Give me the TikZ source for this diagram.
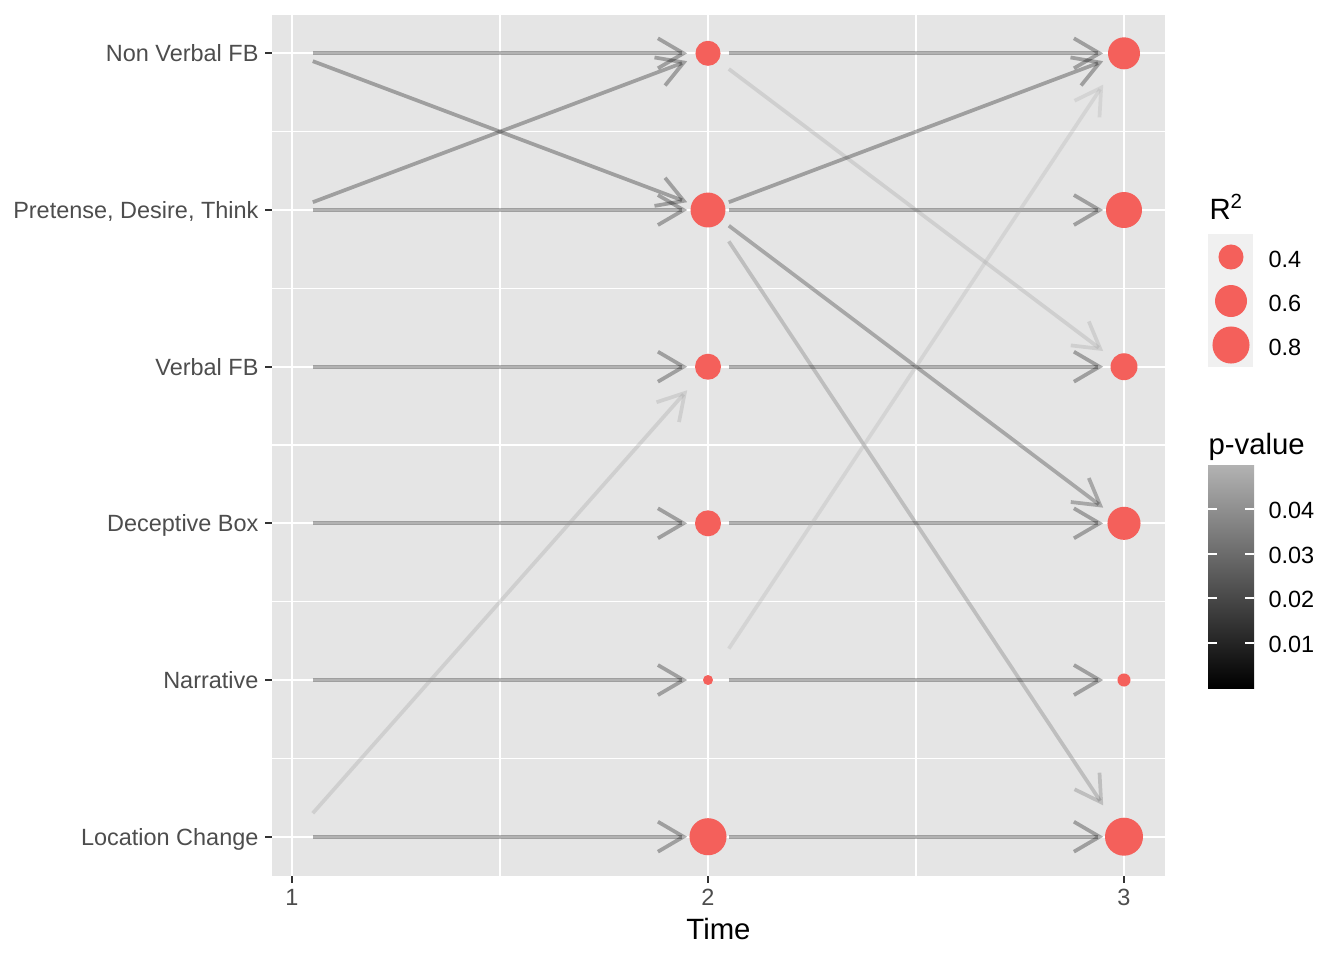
\documentclass[tikz,border=0pt]{standalone}
\usepackage{fontspec}
\setmainfont{Liberation Sans}
\usetikzlibrary{arrows.meta,calc}

\definecolor{panelgray}{HTML}{E5E5E5}
\definecolor{keygray}{HTML}{F0F0F0}
\definecolor{ptred}{HTML}{F4605B}
\definecolor{axisgray}{HTML}{4D4D4D}
\definecolor{tickgray}{HTML}{333333}

\tikzset{
  dot/.style={circle, fill=ptred, inner sep=0pt, minimum size=#1},
  arr/.style={draw=#1, draw opacity=.3, line width=1.4pt,
    -{Straight Barb[length=9.6pt,width=11.25pt]}},
  arr/.default=black,
  major/.style={white, line width=.85pt},
  minor/.style={white, line width=.45pt},
  tick/.style={tickgray, line width=.85pt},
  ylab/.style={anchor=base east, text=axisgray, inner sep=0pt, font=\fontsize{8.8}{10}\selectfont},
  xlab/.style={anchor=center, text=axisgray, inner sep=0pt, font=\fontsize{8.8}{10}\selectfont},
  title/.style={anchor=base west, inner sep=0pt, font=\fontsize{11}{13}\selectfont},
  keylab/.style={anchor=west, inner sep=0pt, font=\fontsize{8.8}{10}\selectfont}
}

\begin{document}
\begin{tikzpicture}[x=0.375pt, y=-0.375pt]
\useasboundingbox (0,0) rectangle (1344,960);

%Panel
\fill[panelgray] (272,15) rectangle (1165,876);
\foreach \y in {131.7,288.3,445,601.7,758.3} \draw[minor] (272,\y) -- (1165,\y);
\foreach \x in {500,916} \draw[minor] (\x,15) -- (\x,876);
\foreach \y in {53.3,210,366.7,523.3,680,836.7} \draw[major] (272,\y) -- (1165,\y);
\foreach \x in {292,708,1124} \draw[major] (\x,15) -- (\x,876);

%Axes
\foreach \y in {53.3,210,366.7,523.3,680,836.7} \draw[tick] (265,\y) -- (272,\y);
\foreach \x in {292,708,1124} \draw[tick] (\x,876) -- (\x,883);

\node[ylab] (labNV) at (259,61.8) {Non Verbal FB};
\node[ylab] (labPDT) at (259,218.5) {Pretense, Desire, Think};
\node[ylab] (labVFB) at (259,375.2) {Verbal FB};
\node[ylab] (labDB) at (259,531.8) {Deceptive Box};
\node[ylab] (labNar) at (259,688.5) {Narrative};
\node[ylab] (labLC) at (259,845.2) {Location Change};

\node[xlab] (labT1) at (292,897.5) {1};
\node[xlab] (labT2) at (708,897.5) {2};
\node[xlab] (labT3) at (1124,897.5) {3};
\node[title, anchor=base] (labTime) at (718.5,939) {Time};

%Nodes
\coordinate (nodeNV1) at (292,53.3);
\coordinate (nodePDT1) at (292,210);
\coordinate (nodeVFB1) at (292,366.7);
\coordinate (nodeDB1) at (292,523.3);
\coordinate (nodeNar1) at (292,680);
\coordinate (nodeLC1) at (292,836.7);

\node[dot=9.4pt] (nodeNV2) at (708,53.3) {};
\node[dot=13.1pt] (nodePDT2) at (708,210) {};
\node[dot=9.75pt] (nodeVFB2) at (708,366.7) {};
\node[dot=9.75pt] (nodeDB2) at (708,523.3) {};
\node[dot=3.75pt] (nodeNar2) at (708,680) {};
\node[dot=13.9pt] (nodeLC2) at (708,836.7) {};

\node[dot=12pt] (nodeNV3) at (1124,53.3) {};
\node[dot=13.5pt] (nodePDT3) at (1124,210) {};
\node[dot=10.1pt] (nodeVFB3) at (1124,366.7) {};
\node[dot=12.4pt] (nodeDB3) at (1124,523.3) {};
\node[dot=4.9pt] (nodeNar3) at (1124,680) {};
\node[dot=14.25pt] (nodeLC3) at (1124,836.7) {};

%Lines
\draw[arr] ($(nodeNV1)!.05!(nodeNV2)$) -- ($(nodeNV1)!.95!(nodeNV2)$);
\draw[arr] ($(nodeNV1)!.05!(nodePDT2)$) -- ($(nodeNV1)!.95!(nodePDT2)$);

\draw[arr] ($(nodePDT1)!.05!(nodeNV2)$) -- ($(nodePDT1)!.95!(nodeNV2)$);
\draw[arr] ($(nodePDT1)!.05!(nodePDT2)$) -- ($(nodePDT1)!.95!(nodePDT2)$);

\draw[arr] ($(nodeVFB1)!.05!(nodeVFB2)$) -- ($(nodeVFB1)!.95!(nodeVFB2)$);

\draw[arr] ($(nodeDB1)!.05!(nodeDB2)$) -- ($(nodeDB1)!.95!(nodeDB2)$);

\draw[arr] ($(nodeNar1)!.05!(nodeNar2)$) -- ($(nodeNar1)!.95!(nodeNar2)$);

\draw[arr=black!38] ($(nodeLC1)!.05!(nodeVFB2)$) -- ($(nodeLC1)!.95!(nodeVFB2)$);
\draw[arr] ($(nodeLC1)!.05!(nodeLC2)$) -- ($(nodeLC1)!.95!(nodeLC2)$);


\draw[arr] ($(nodeNV2)!.05!(nodeNV3)$) -- ($(nodeNV2)!.95!(nodeNV3)$);
\draw[arr=black!38] ($(nodeNV2)!.05!(nodeVFB3)$) -- ($(nodeNV2)!.95!(nodeVFB3)$);

\draw[arr] ($(nodePDT2)!.05!(nodeNV3)$) -- ($(nodePDT2)!.95!(nodeNV3)$);
\draw[arr] ($(nodePDT2)!.05!(nodePDT3)$) -- ($(nodePDT2)!.95!(nodePDT3)$);
\draw[arr=black!90] ($(nodePDT2)!.05!(nodeDB3)$) -- ($(nodePDT2)!.95!(nodeDB3)$);
\draw[arr=black!60] ($(nodePDT2)!.05!(nodeLC3)$) -- ($(nodePDT2)!.95!(nodeLC3)$);

\draw[arr] ($(nodeVFB2)!.05!(nodeVFB3)$) -- ($(nodeVFB2)!.95!(nodeVFB3)$);

\draw[arr] ($(nodeDB2)!.05!(nodeDB3)$) -- ($(nodeDB2)!.95!(nodeDB3)$);

\draw[arr=black!31] ($(nodeNar2)!.05!(nodeNV3)$) -- ($(nodeNar2)!.95!(nodeNV3)$);
\draw[arr] ($(nodeNar2)!.05!(nodeNar3)$) -- ($(nodeNar2)!.95!(nodeNar3)$);

\draw[arr] ($(nodeLC2)!.05!(nodeLC3)$) -- ($(nodeLC2)!.95!(nodeLC3)$);

%Legend: R^2
\node[title] (titleR) at (1209,219) {R\textsuperscript{2}};
\fill[keygray] (1208,234) rectangle (1253,367);
\node[dot=9.4pt] (keyA) at (1231,257) {};
\node[dot=12pt] (keyB) at (1231,301) {};
\node[dot=13.9pt] (keyC) at (1231,345) {};
\node[keylab] (labA) at (1268,259) {0.4};
\node[keylab] (labB) at (1268,303) {0.6};
\node[keylab] (labC) at (1268,347) {0.8};

%Legend: p-value
\node[title] (titleP) at (1208,454) {p-value};
\shade[top color=black!30, bottom color=black] (1208,465) rectangle (1254,688);
\foreach \y/\v in {509/0.04,554/0.03,598/0.02,643/0.01} {
  \draw[white, line width=.4pt] (1208,\y) -- (1217,\y) (1245,\y) -- (1254,\y);
  \node[keylab] at (1268,\y+1) {\v};
}
\end{tikzpicture}
\end{document}
